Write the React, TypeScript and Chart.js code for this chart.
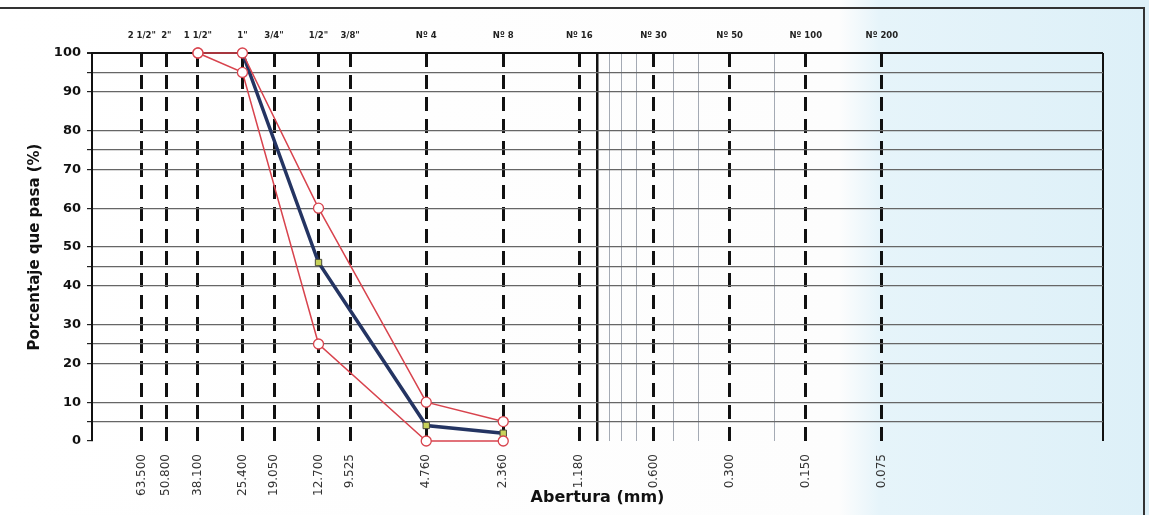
import React, { useEffect, useRef } from 'react';
import { Chart, registerables } from 'chart.js';

Chart.register(...registerables);

// Sieve openings (mm) and names
const sieveSizes = [63.5, 50.8, 38.1, 25.4, 19.05, 12.7, 9.525, 4.76, 2.36, 1.18, 0.6, 0.3, 0.15, 0.075];
const sieveNames = ['2 1/2"', '2"', '1 1/2"', '1"', '3/4"', '1/2"', '3/8"', 'Nº 4', 'Nº 8', 'Nº 16', 'Nº 30', 'Nº 50', 'Nº 100', 'Nº 200'];
const sizeLabels = ['63.500', '50.800', '38.100', '25.400', '19.050', '12.700', '9.525', '4.760', '2.360', '1.180', '0.600', '0.300', '0.150', '0.075'];

// Thin solid log lines (and chart right edge)
const minorLines = [1, 0.9, 0.8, 0.7, 0.5, 0.4, 0.2, 0.01];

// Horizontal grid values
const yTicks = [0, 5, 10, 20, 25, 30, 40, 45, 50, 60, 70, 75, 80, 90, 95, 100];

// Specification limits
const limitSizes = [38.1, 25.4, 12.7, 4.76, 2.36];
const upperLimit = [100, 100, 60, 10, 5];
const lowerLimit = [100, 95, 25, 0, 0];

// Sample gradation
const sampleSizes = [25.4, 12.7, 4.76, 2.36];
const samplePass = [100, 46, 4, 2];

const FONT = "'DejaVu Sans', 'Liberation Sans', sans-serif";
const RED = '#d8434d';
const NAVY = '#243462';

export default function App() {
  const canvasRef = useRef<HTMLCanvasElement | null>(null);

  useEffect(() => {
    document.body.style.margin = '0';
    const canvas = canvasRef.current;
    if (!canvas) return;

    const toPts = (xs: number[], ys: number[]) => xs.map((x, i) => ({ x, y: ys[i] }));
    const logBase = {
      type: 'logarithmic' as const,
      reverse: true,
      min: 0.01,
      max: 100,
    };

    const chart = new Chart(canvas, {
      type: 'line',
      data: {
        datasets: [
          {
            label: 'Límite superior',
            data: toPts(limitSizes, upperLimit),
            borderColor: RED,
            borderWidth: 1.5,
            pointRadius: 5,
            pointBackgroundColor: '#ffffff',
            pointBorderColor: RED,
            pointBorderWidth: 1.3,
            clip: false,
            xAxisID: 'x',
          },
          {
            label: 'Límite inferior',
            data: toPts(limitSizes, lowerLimit),
            borderColor: RED,
            borderWidth: 1.5,
            pointRadius: 5,
            pointBackgroundColor: '#ffffff',
            pointBorderColor: RED,
            pointBorderWidth: 1.3,
            clip: false,
            xAxisID: 'x',
          },
          {
            label: 'Muestra',
            data: toPts(sampleSizes, samplePass),
            borderColor: NAVY,
            borderWidth: 3.5,
            pointStyle: 'rect',
            pointRadius: 4.5,
            pointBackgroundColor: '#c8d35a',
            pointBorderColor: '#4a4a3a',
            pointBorderWidth: 1,
            clip: false,
            xAxisID: 'x',
          },
        ],
      },
      options: {
        responsive: false,
        animation: false,
        devicePixelRatio: 1,
        layout: { padding: { left: 0, right: 46, top: 0, bottom: 0 } },
        plugins: {
          legend: { display: false },
          tooltip: { enabled: false },
        },
        scales: {
          x: {
            ...logBase,
            position: 'bottom',
            afterBuildTicks: (s: any) => {
              s.ticks = sieveSizes.map((v) => ({ value: v }));
            },
            afterFit: (s: any) => {
              s.height = 74;
            },
            ticks: {
              autoSkip: false,
              minRotation: 90,
              maxRotation: 90,
              padding: 13,
              color: '#333',
              font: { family: FONT, size: 12 },
              callback: (_v: any, i: number) => sizeLabels[i],
            },
            grid: {
              color: '#111',
              lineWidth: 3,
              drawTicks: false,
            },
            border: { display: false, dash: [14, 8] },
            title: {
              display: true,
              text: 'Abertura (mm)',
              color: '#111',
              font: { family: FONT, size: 16, weight: 'bold' },
              padding: { top: 0, bottom: 8 },
            },
          },
          xTop: {
            ...logBase,
            position: 'top',
            afterBuildTicks: (s: any) => {
              s.ticks = sieveSizes.map((v) => ({ value: v }));
            },
            afterFit: (s: any) => {
              s.height = 53;
            },
            ticks: {
              autoSkip: false,
              minRotation: 0,
              maxRotation: 0,
              padding: 12,
              color: '#222',
              font: { family: FONT, size: 8.5, weight: 'bold' },
              callback: (_v: any, i: number) => sieveNames[i],
            },
            grid: { display: false, drawTicks: false },
            border: { display: false },
          },
          xMinor: {
            ...logBase,
            position: 'top',
            afterBuildTicks: (s: any) => {
              s.ticks = minorLines.map((v) => ({ value: v }));
            },
            afterFit: (s: any) => {
              s.height = 0;
            },
            ticks: { display: false },
            grid: {
              drawTicks: false,
              color: (ctx: any) => {
                const v = ctx.tick && ctx.tick.value;
                return v === 1 || v === 0.01 ? '#111' : '#a4aab4';
              },
              lineWidth: (ctx: any) => {
                const v = ctx.tick && ctx.tick.value;
                return v === 1 ? 2.5 : v === 0.01 ? 2 : 1;
              },
            },
            border: { display: false },
          },
          y: {
            type: 'linear',
            min: 0,
            max: 100,
            afterBuildTicks: (s: any) => {
              s.ticks = yTicks.map((v) => ({ value: v }));
            },
            afterFit: (s: any) => {
              s.width = 92;
            },
            ticks: {
              autoSkip: false,
              padding: 6,
              color: '#111',
              font: { family: FONT, size: 13, weight: 'bold' },
              callback: (v: any) => (Number(v) % 10 === 0 ? String(v) : ''),
            },
            grid: {
              color: (ctx: any) => {
                const v = ctx.tick && ctx.tick.value;
                return v === 0 ? 'rgba(0,0,0,0)' : v === 100 ? '#111' : '#666';
              },
              lineWidth: (ctx: any) => {
                const v = ctx.tick && ctx.tick.value;
                return v === 100 ? 2 : 1.2;
              },
              drawTicks: true,
              tickLength: 5,
              tickColor: '#222',
            },
            border: { display: true, color: '#111', width: 2 },
            title: {
              display: true,
              text: 'Porcentaje que pasa (%)',
              color: '#111',
              font: { family: FONT, size: 15, weight: 'bold' },
              padding: { top: 26, bottom: 0 },
            },
          },
        },
      } as any,
    });

    return () => {
      chart.destroy();
    };
  }, []);

  return (
    <div
      style={{
        position: 'relative',
        width: 1149,
        height: 515,
        overflow: 'hidden',
        background:
          'linear-gradient(90deg, #ffffff 0%, #fdfdfd 73%, #e6f4fa 76.5%, #ddf0f8 100%)',
      }}
    >
      <div
        style={{
          position: 'absolute',
          top: 7,
          left: 0,
          width: 1145,
          height: 515,
          boxSizing: 'border-box',
          borderTop: '2px solid #333',
          borderRight: '2px solid #333',
        }}
      />
      <canvas
        ref={canvasRef}
        width={1149}
        height={515}
        style={{ position: 'absolute', left: 0, top: 0, width: 1149, height: 515 }}
      />
    </div>
  );
}
